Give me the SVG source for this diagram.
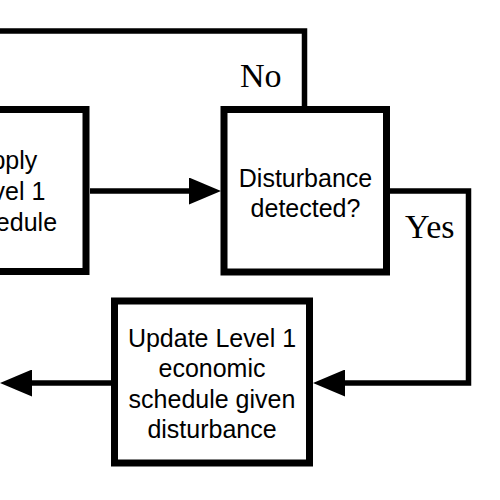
<svg xmlns="http://www.w3.org/2000/svg" width="500" height="500" viewBox="0 0 500 500">
<defs>
<style>
.box{fill:#fff;stroke:#000;stroke-width:7}
.lbl{font-family:"Liberation Sans",Arial,sans-serif;font-size:25px;fill:#000;text-anchor:middle}
.edge{fill:none;stroke:#000;stroke-width:5.5}
.cond{font-family:"Liberation Serif","DejaVu Serif",serif;font-size:34px;fill:#000}
</style>
<marker id="ah" markerUnits="userSpaceOnUse" markerWidth="32" markerHeight="27" refX="2" refY="13.5" orient="auto" viewBox="0 0 32 27">
<path d="M0,0 L32,13.5 L0,27 z" fill="#000"/>
</marker>
</defs>
<rect width="500" height="500" fill="#fff"/>
<g id="connectors">
<path class="edge" d="M90,191 H191" marker-end="url(#ah)"/>
<path class="edge" d="M304.5,106 V31 H-5"/>
<path class="edge" d="M390,191 H468.5 V383 H343" marker-end="url(#ah)"/>
<path class="edge" d="M111,383 H30" marker-end="url(#ah)"/>
<text class="cond" x="240" y="87">No</text>
<text class="cond" x="405" y="238">Yes</text>
</g>
<g id="apply">
<rect class="box" x="-76" y="109.5" width="162" height="162"/>
<text class="lbl" x="6" y="169">Apply</text>
<text class="lbl" x="5" y="200">Level 1</text>
<text class="lbl" x="7" y="231">schedule</text>
</g>
<g id="disturbance">
<rect class="box" x="224" y="109.5" width="162.5" height="162.5"/>
<text class="lbl" x="305.5" y="187">Disturbance</text>
<text class="lbl" x="305.5" y="217">detected?</text>
</g>
<g id="update">
<rect class="box" x="114.5" y="301" width="195" height="162"/>
<text class="lbl" x="212" y="347">Update Level 1</text>
<text class="lbl" x="212" y="377">economic</text>
<text class="lbl" x="212" y="408">schedule given</text>
<text class="lbl" x="212" y="438">disturbance</text>
</g>
</svg>
